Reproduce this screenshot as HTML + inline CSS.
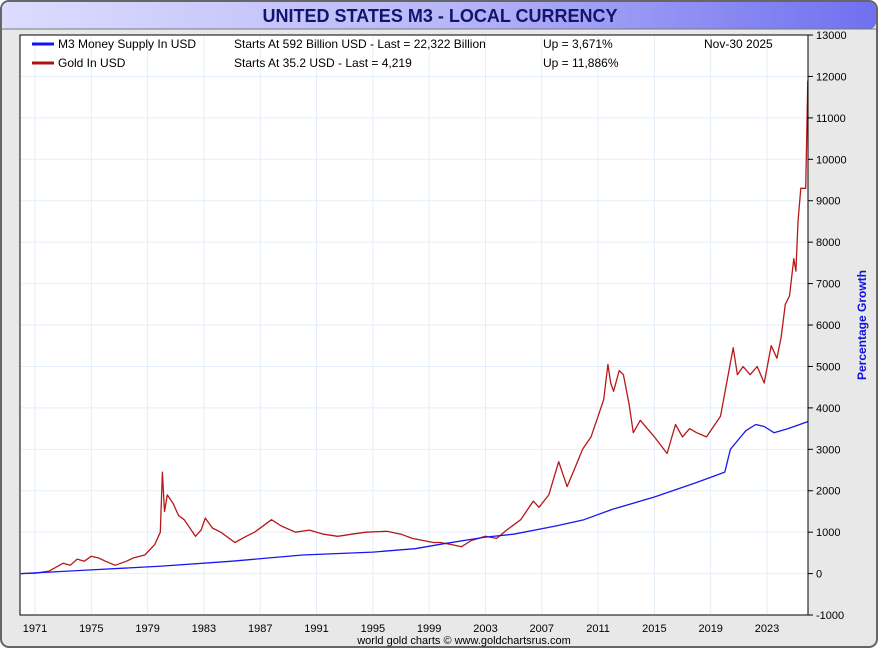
<!DOCTYPE html>
<html><head><meta charset="utf-8"><style>
body{margin:0;width:880px;height:650px;overflow:hidden;background:#fff;font-family:"Liberation Sans",sans-serif}
</style></head><body>
<svg id="c" width="880" height="650" xmlns="http://www.w3.org/2000/svg">
<defs><linearGradient id="tg" x1="0" x2="1"><stop offset="0" stop-color="#dcdcff"/><stop offset="0.5" stop-color="#b8b8f8"/><stop offset="1" stop-color="#7070f0"/></linearGradient></defs>
<rect x="1" y="1" width="876" height="646" rx="8" fill="#e8e8e8" stroke="#666" stroke-width="2"/>
<rect x="2" y="2" width="874" height="27" rx="7" fill="url(#tg)"/>
<line x1="2" y1="29" x2="876" y2="29" stroke="#777"/>
<text x="440" y="22" text-anchor="middle" font-size="18" font-weight="bold" fill="#14146e">UNITED STATES M3 - LOCAL CURRENCY</text>
<rect x="20" y="35" width="788" height="580" fill="#fff"/>
<g id="grid"></g>
<g id="axes"></g>
<g id="series"></g>
<rect x="20" y="35" width="788" height="580" fill="none" stroke="#000"/>
<g font-size="12" fill="#000">
<line x1="32" y1="44" x2="54" y2="44" stroke="#1010ff" stroke-width="3"/>
<text x="58" y="48">M3 Money Supply In USD</text>
<text x="234" y="48">Starts At 592 Billion USD - Last = 22,322 Billion</text>
<text x="543" y="48">Up = 3,671%</text>
<text x="704" y="48">Nov-30  2025</text>
<line x1="32" y1="63" x2="54" y2="63" stroke="#b01010" stroke-width="3"/>
<text x="58" y="67">Gold In USD</text>
<text x="234" y="67">Starts At 35.2 USD - Last = 4,219</text>
<text x="543" y="67">Up = 11,886%</text>
</g>
<text transform="translate(866,325) rotate(-90)" text-anchor="middle" font-size="12" font-weight="bold" fill="#1010e0">Percentage Growth</text>
<text x="464" y="644" text-anchor="middle" font-size="11" fill="#000">world gold charts © www.goldchartsrus.com</text>
</svg>
<script>
const yTicks=[-1000,0,1000,2000,3000,4000,5000,6000,7000,8000,9000,10000,11000,12000,13000];
const xTicks=[1971,1975,1979,1983,1987,1991,1995,1999,2003,2007,2011,2015,2019,2023];
const goldYears=[1970,1971,1972,1973,1973.5,1974,1974.5,1975,1975.5,1976,1976.7,1977.5,1978,1978.8,1979.5,1979.9,1980.05,1980.2,1980.4,1980.8,1981.2,1981.6,1982.4,1982.8,1983.1,1983.6,1984.2,1985.2,1986,1986.6,1987.8,1988.5,1989.5,1990.5,1991.5,1992.5,1993.5,1994.5,1996,1997,1997.8,1999.3,1999.8,2000.6,2001.3,2002,2003,2003.8,2004.5,2005.5,2006.4,2006.8,2007.5,2008.2,2008.8,2009.3,2009.9,2010.5,2011,2011.4,2011.7,2011.9,2012.1,2012.5,2012.8,2013.2,2013.5,2014,2014.5,2015,2015.9,2016.5,2017,2017.5,2018,2018.7,2019.3,2019.7,2020.6,2020.9,2021.3,2021.8,2022.3,2022.8,2023.3,2023.7,2024,2024.3,2024.6,2024.9,2025.05,2025.2,2025.4,2025.6,2025.75,2025.9];
const goldValues=[0,10,60,250,200,350,300,420,380,300,200,300,380,450,700,1000,2450,1500,1900,1700,1400,1300,900,1050,1340,1100,1000,750,900,1000,1300,1150,1000,1050,950,900,950,1000,1020,950,850,750,750,700,650,800,900,850,1050,1300,1750,1600,1900,2700,2100,2500,3000,3300,3800,4200,5050,4600,4400,4900,4800,4100,3400,3700,3500,3300,2900,3600,3300,3500,3400,3300,3600,3800,5450,4800,5000,4800,5000,4600,5500,5200,5700,6500,6700,7600,7300,8500,9300,9300,9300,11900];
const m3Years=[1970,1975,1980,1985,1990,1995,1998,2000,2003,2005,2008,2010,2012,2015,2018,2020,2020.4,2021,2021.5,2022.2,2022.8,2023.5,2024.5,2025.9];
const m3Values=[0,90,180,300,450,520,600,720,880,950,1150,1300,1550,1850,2200,2450,3000,3250,3450,3600,3550,3400,3500,3670];
const NS="http://www.w3.org/2000/svg";
const X=y=>35+(y-1971)*14.077;
const Y=v=>573.6-v*0.041429;
const grid=document.getElementById('grid'),axes=document.getElementById('axes'),ser=document.getElementById('series');
function mk(t,a,p){const e=document.createElementNS(NS,t);for(const k in a)e.setAttribute(k,a[k]);p.appendChild(e);return e;}
yTicks.forEach(v=>{
  const l=mk('line',{x1:21,x2:807,y1:Y(v),y2:Y(v),stroke:'#e4eef8'},grid);
  
  
  mk('line',{x1:808,x2:813,y1:Y(v),y2:Y(v),stroke:'#000'},axes);
  const t=mk('text',{x:816,y:Y(v)+4,'font-size':11,fill:'#000'},axes);
  t.textContent=v;
  
  
});
xTicks.forEach(yr=>{
  const l=mk('line',{x1:X(yr),x2:X(yr),y1:36,y2:614,stroke:'#e4eef8'},grid);
  
  
  const t=mk('text',{x:X(yr),y:632,'font-size':11,'text-anchor':'middle',fill:'#000'},axes);
  t.textContent=yr;
  
  
});
function line(xs,vs,color,name){
  const d=xs.map((x,i)=>(i?'L':'M')+X(x).toFixed(1)+','+Y(vs[i]).toFixed(1)).join('');
  const p=mk('path',{d:d,fill:'none',stroke:color,'stroke-width':1.3,'stroke-linejoin':'round'},ser);
  
  
}
line(goldYears,goldValues,'#b81818','gold-line');
line(m3Years,m3Values,'#1818f0','m3-line');
</script>
</body></html>
